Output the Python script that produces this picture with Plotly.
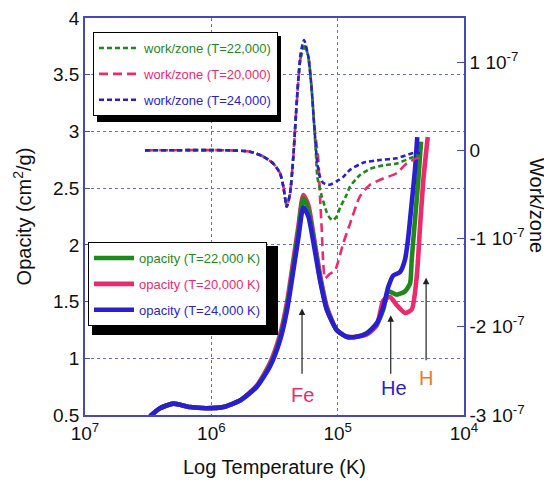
import plotly.graph_objects as go

# ---------------- data ----------------
# log10 temperature grids
opac_blue_logT = [6.485, 6.406, 6.30, 6.17, 6.04, 5.905, 5.77, 5.64, 5.535, 5.456, 5.40, 5.35, 5.31,
                  5.272, 5.232, 5.19, 5.14, 5.087, 5.008, 4.929, 4.85, 4.77, 4.69, 4.639, 4.599,
                  4.56, 4.507, 4.467, 4.441, 4.414, 4.388, 4.37]
opac_blue = [0.49, 0.56, 0.60, 0.57, 0.56, 0.57, 0.63, 0.75, 0.93, 1.16, 1.43, 1.78, 2.07,
             2.33, 2.25, 2.01, 1.69, 1.43, 1.25, 1.19, 1.19, 1.22, 1.31, 1.45, 1.63,
             1.73, 1.76, 1.87, 2.07, 2.37, 2.66, 2.95]

opac_green_logT = [6.485, 6.406, 6.30, 6.17, 6.04, 5.905, 5.77, 5.64, 5.535, 5.456, 5.40, 5.35, 5.31,
                   5.272, 5.232, 5.19, 5.14, 5.087, 5.008, 4.929, 4.85, 4.77, 4.69, 4.639, 4.599,
                   4.533, 4.467, 4.427, 4.414, 4.388, 4.362, 4.34]
opac_green = [0.49, 0.56, 0.60, 0.57, 0.56, 0.57, 0.63, 0.75, 0.94, 1.18, 1.46, 1.82, 2.13,
              2.41, 2.31, 2.05, 1.71, 1.44, 1.25, 1.19, 1.19, 1.22, 1.30, 1.43, 1.59,
              1.56, 1.59, 1.66, 1.87, 2.22, 2.57, 2.91]

opac_pink_logT = [6.485, 6.406, 6.30, 6.17, 6.04, 5.905, 5.77, 5.64, 5.535, 5.456, 5.40, 5.35, 5.31,
                  5.272, 5.232, 5.19, 5.14, 5.087, 5.008, 4.929, 4.85, 4.77, 4.69, 4.639, 4.586,
                  4.533, 4.467, 4.414, 4.374, 4.348, 4.322, 4.287]
opac_pink = [0.49, 0.56, 0.60, 0.57, 0.56, 0.57, 0.63, 0.76, 0.96, 1.21, 1.50, 1.87, 2.17,
             2.44, 2.35, 2.08, 1.74, 1.46, 1.25, 1.19, 1.19, 1.21, 1.29, 1.51, 1.54,
             1.47, 1.40, 1.43, 1.72, 2.16, 2.57, 2.95]

# work per zone, in units of 1e-7
work_blue_logT = [6.525, 5.852, 5.694, 5.589, 5.509, 5.456, 5.43, 5.403, 5.377, 5.351, 5.33, 5.312,
                  5.293, 5.266, 5.232, 5.205, 5.187, 5.161, 5.14, 5.114, 5.061, 5.008, 4.955,
                  4.902, 4.797, 4.665, 4.533, 4.401, 4.348]
work_blue = [0.0, 0.0, -0.015, -0.07, -0.15, -0.26, -0.41, -0.64, -0.49, -0.07, 0.42, 0.80,
             1.10, 1.25, 1.06, 0.68, 0.31, -0.15, -0.30, -0.37, -0.39, -0.35, -0.30,
             -0.22, -0.14, -0.11, -0.09, -0.03, -0.03]

work_green_logT = [6.525, 5.852, 5.694, 5.589, 5.509, 5.456, 5.43, 5.403, 5.377, 5.351, 5.33, 5.312,
                   5.293, 5.259, 5.232, 5.205, 5.187, 5.171, 5.161, 5.126, 5.087, 5.061, 5.034,
                   5.008, 4.981, 4.928, 4.902, 4.823, 4.744, 4.639, 4.533, 4.427, 4.362]
work_green = [0.0, 0.0, -0.015, -0.07, -0.15, -0.26, -0.41, -0.64, -0.49, -0.07, 0.40, 0.78,
              1.05, 1.18, 1.06, 0.68, 0.31, -0.07, -0.30, -0.52, -0.70, -0.77, -0.79,
              -0.75, -0.65, -0.50, -0.41, -0.28, -0.21, -0.17, -0.15, -0.09, -0.05]

work_pink_logT = [6.525, 5.852, 5.694, 5.589, 5.509, 5.456, 5.43, 5.403, 5.377, 5.351, 5.33, 5.312,
                  5.293, 5.259, 5.232, 5.205, 5.187, 5.153, 5.140, 5.126, 5.114, 5.100, 5.061,
                  5.021, 4.955, 4.902, 4.823, 4.744, 4.639, 4.533, 4.454, 4.374, 4.309]
work_pink = [0.0, 0.0, -0.015, -0.07, -0.15, -0.26, -0.41, -0.64, -0.49, -0.07, 0.40, 0.78,
             1.05, 1.18, 1.06, 0.68, 0.31, -0.11, -0.52, -0.90, -1.28, -1.45, -1.40,
             -1.36, -1.05, -0.83, -0.52, -0.39, -0.32, -0.26, -0.15, -0.09, -0.09]

WORK_UNIT = 1e-7

x_tick_vals = [1e7, 1e6, 1e5, 1e4]
x_tick_text = ["10<sup>7</sup>", "10<sup>6</sup>", "10<sup>5</sup>", "10<sup>4</sup>"]
y2_tick_vals = [-3, -2, -1, 0, 1]
y2_tick_text = ["-3 10<sup>-7</sup>", "-2 10<sup>-7</sup>", "-1 10<sup>-7</sup>", "0", "1 10<sup>-7</sup>"]

# arrow markers: label, log10 T, tail/tip opacity, label position
feature_names = ["Fe", "He", "H"]
feature_logT = [5.282, 4.58, 4.30]
feature_tail = [0.85, 0.85, 0.97]
feature_tip = [1.44, 1.38, 1.71]
feature_label_y = [0.68, 0.74, 0.83]
feature_label_logT = [5.275, 4.555, 4.298]

# ---------------- styles ----------------
GREEN = "#1e8a1e"
PINK = "#ec2a6e"
BLUE = "#2a1ed2"
ORANGE = "#f07a22"
AXIS = "#4848b8"
FONT = "Liberation Sans, Arial, sans-serif"

# the page body has an 8px margin; the figure is drawn inside it
OFF = 8
W, H = 552 - OFF, 483 - OFF
# plot-area edges in screen pixels
SL, SR, ST, SB = 85, 464, 18, 415
PL, PR, PT, PB = SL - OFF, SR - OFF, ST - OFF, SB - OFF


def T(lst):
    return [10 ** v for v in lst]


def colored(text, color):
    return f"<span style='color:{color}'>{text}</span>"


def scr2paper(sx, sy):
    return (sx - SL) / (SR - SL), (SB - sy) / (SB - ST)


fig = go.Figure()

# work / zone (dashed, right axis)
work_series = [
    ("work/zone (T=20,000)", work_pink_logT, work_pink, PINK, "9px,5px", 2),
    ("work/zone (T=22,000)", work_green_logT, work_green, GREEN, "5px,3px", 1),
    ("work/zone (T=24,000)", work_blue_logT, work_blue, BLUE, "5px,3px", 3),
]
for name, lx, vals, col, dash, rank in work_series:
    fig.add_trace(go.Scatter(
        x=T(lx), y=[v * WORK_UNIT for v in vals], yaxis="y2", mode="lines",
        name=colored(name, col),
        line=dict(color=col, width=2.6, dash=dash, shape="spline", smoothing=0.6),
        legend="legend", legendrank=rank, legendgroup=name))

# opacity (solid, left axis)
opac_series = [
    ("opacity (T=20,000 K)", opac_pink_logT, opac_pink, PINK, 2),
    ("opacity (T=22,000 K)", opac_green_logT, opac_green, GREEN, 1),
    ("opacity (T=24,000 K)", opac_blue_logT, opac_blue, BLUE, 3),
]
for name, lx, vals, col, rank in opac_series:
    fig.add_trace(go.Scatter(
        x=T(lx), y=vals, yaxis="y", mode="lines",
        name=colored(name, col),
        line=dict(color=col, width=4.6, shape="spline", smoothing=0.6),
        legend="legend2", legendrank=rank, legendgroup=name))

# arrows with element labels
label_colors = [PINK, BLUE, ORANGE]
for nm, lx, tail, tip, ly, llx, col in zip(feature_names, feature_logT, feature_tail, feature_tip,
                                           feature_label_y, feature_label_logT, label_colors):
    fig.add_annotation(x=lx, y=tip, ax=lx, ay=tail, xref="x", yref="y", axref="x", ayref="y",
                       showarrow=True, arrowhead=2, arrowsize=1.1, arrowwidth=1.2,
                       arrowcolor="#222222", text="")
    fig.add_annotation(x=llx, y=ly, xref="x", yref="y", text=nm, showarrow=False,
                       font=dict(size=20, color=col, family=FONT))

# right axis title (reads top-to-bottom)
ax_, ay_ = scr2paper(537, 205)
fig.add_annotation(x=ax_, y=ay_, xref="paper", yref="paper", text="Work/zone", showarrow=False,
                   xanchor="center", yanchor="middle",
                   textangle=90, font=dict(size=20, color="#111111", family=FONT))

# legend drop shadows (screen pixel boxes)
for (x0, y0, x1, y1) in [(97, 36, 281, 122), (92, 246, 278, 335)]:
    a0, b0 = scr2paper(x0, y1)
    a1, b1 = scr2paper(x1, y0)
    fig.add_shape(type="rect", xref="paper", yref="paper", x0=a0, y0=b0, x1=a1, y1=b1,
                  fillcolor="black", line=dict(width=0), layer="above")

lx1, ly1 = scr2paper(93, 32)
lx2, ly2 = scr2paper(88, 242)

fig.update_layout(
    width=W, height=H,
    margin=dict(l=PL, r=W - PR, t=PT, b=H - PB, autoexpand=False),
    paper_bgcolor="white", plot_bgcolor="white",
    font=dict(family=FONT, size=19, color="#111111"),
    xaxis=dict(type="log", range=[7, 4], tickvals=x_tick_vals, ticktext=x_tick_text,
               showgrid=True, gridcolor="#6a6ad0", griddash="dot", gridwidth=1,
               showline=True, linecolor=AXIS, linewidth=1.5, mirror=True, ticks="",
               title=dict(text="Log Temperature (K)", font=dict(size=20), standoff=17),
               tickfont=dict(size=19), zeroline=False, automargin=False,
               ticklabeloverflow="allow"),
    yaxis=dict(range=[0.5, 4], dtick=0.5, tick0=0.5,
               showgrid=True, gridcolor="#6a6ad0", griddash="dot", gridwidth=1,
               showline=True, linecolor=AXIS, linewidth=1.5, mirror=True,
               ticks="inside", ticklen=5, tickcolor=AXIS,
               title=dict(text="Opacity (cm<sup>2</sup>/g)", font=dict(size=20), standoff=16),
               tickfont=dict(size=19), zeroline=False, automargin=False,
               ticklabeloverflow="allow"),
    yaxis2=dict(overlaying="y", side="right", range=[-3e-7, 1.5e-7],
                tickvals=[v * WORK_UNIT for v in y2_tick_vals], ticktext=y2_tick_text,
                showgrid=False, zeroline=False, showline=True, linecolor=AXIS, linewidth=1.5,
                ticks="inside", ticklen=7, tickcolor=AXIS, tickfont=dict(size=19),
                automargin=False, ticklabeloverflow="allow"),
    legend=dict(x=lx1, y=ly1, xanchor="left", yanchor="top", bgcolor="white",
                bordercolor="black", borderwidth=1, font=dict(size=13, family=FONT),
                tracegroupgap=6, itemwidth=40, traceorder="grouped"),
    legend2=dict(x=lx2, y=ly2, xanchor="left", yanchor="top", bgcolor="white",
                 bordercolor="black", borderwidth=1, font=dict(size=13, family=FONT),
                 tracegroupgap=6, itemwidth=40, traceorder="grouped"),
    showlegend=True,
)

fig.write_html("out.html")
